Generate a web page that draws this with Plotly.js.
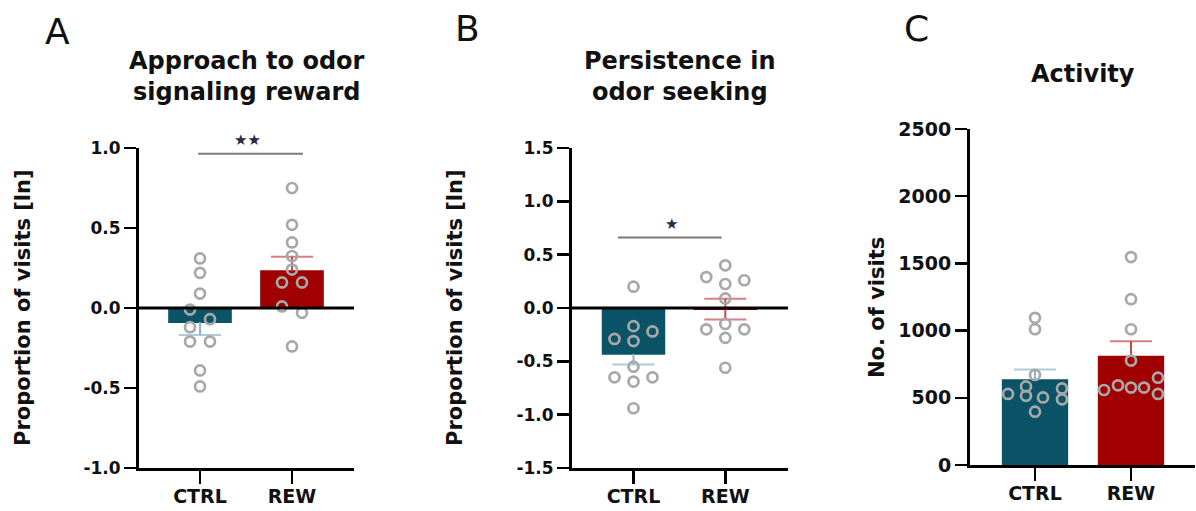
<!DOCTYPE html>
<html><head><meta charset="utf-8">
<script src="https://cdn.plot.ly/plotly-3.0.1.min.js"></script>
<style>html,body{margin:0;padding:0;background:#fff}#chart{width:1196px;height:511px}</style>
</head><body><div id="chart"></div>
<script>
const W = 1196, H = 511;
const FONT = 'DejaVu Sans';

// ---------- data ----------
const categories = ['CTRL', 'REW'];

// Panel A: Approach to odor signaling reward
const approachMean = [-0.088, 0.23];
const approachSem = [0.08, 0.09];
const approachCtrl = [0.31, 0.22, 0.09, -0.01, -0.07, -0.12, -0.21, -0.21, -0.39, -0.49];
const approachRew = [0.75, 0.52, 0.41, 0.325, 0.24, 0.16, 0.16, 0.01, -0.03, -0.24];
const approachTicks = [-1, -0.5, 0, 0.5, 1];

// Panel B: Persistence in odor seeking
const persistMean = [-0.43, -0.01];
const persistSem = [0.10, 0.097];
const persistCtrl = [0.20, -0.17, -0.22, -0.29, -0.31, -0.55, -0.65, -0.65, -0.69, -0.94];
const persistRew = [0.40, 0.29, 0.26, 0.225, 0.09, -0.15, -0.20, -0.20, -0.28, -0.56];
const persistTicks = [-1.5, -1, -0.5, 0, 0.5, 1, 1.5];

// Panel C: Activity
const activityMean = [630, 806];
const activitySem = [80, 115];
const activityCtrl = [1095, 1010, 670, 585, 515, 529, 503, 570, 489, 397];
const activityRew = [1547, 1234, 1010, 777, 593, 576, 576, 558, 650, 529];
const activityTicks = [0, 500, 1000, 1500, 2000, 2500];

// ---------- style / layout (pixel positions, jitter) ----------
const ctrlColor = '#0b5366', rewColor = '#a00000';
const ctrlErr = '#8cb7c6', rewErr = '#c84848', dotColor = '#a8a8a8';

const panels = [
  { xPix: [139, 354], yPix: [148, 468], c0: 200, step: 92, yr: [-1, 1], ticks: approachTicks, dec: 1, tsize: 17,
    mean: approachMean, sem: approachSem, pts: [approachCtrl, approachRew],
    jit: [[0,0,0,-10,10,-10,-10,10,0,0], [0,0,0,0,0,-10,10,-10,10,0]],
    errDir: [-1, 1], zero: true,
    sig: { x0: -0.02, x1: 1.12, y: 0.964, tyPix: 140, txPix: 247, text: '★★' },
    title: 'Approach to odor<br>signaling reward', ty: 76,
    ytitle: 'Proportion of visits [ln]', ytx: 23, yty: 308, letter: 'A', lx: 57, ly: 31 },
  { xPix: [572, 788], yPix: [148, 468], c0: 633.5, step: 91.8, yr: [-1.5, 1.5], ticks: persistTicks, dec: 1, tsize: 17,
    mean: persistMean, sem: persistSem, pts: [persistCtrl, persistRew],
    jit: [[0,0,19,-19,0,0,-19,19,0,0], [0,-19,19,0,0,0,-19,19,0,0]],
    errDir: [-1, 0], zero: true,
    sig: { x0: -0.17, x1: 0.96, y: 0.66, tyPix: 224, txPix: 671, text: '★' },
    title: 'Persistence in<br>odor seeking', ty: 76,
    ytitle: 'Proportion of visits [ln]', ytx: 455, yty: 308, letter: 'B', lx: 467, ly: 29 },
  { xPix: [970, 1195], yPix: [129, 465], c0: 1035, step: 96, yr: [0, 2500], ticks: activityTicks, dec: 0, tsize: 19,
    mean: activityMean, sem: activitySem, pts: [activityCtrl, activityRew],
    jit: [[0,0,0,-9,-9,-27,8,27,27,0], [0,0,0,0,-13,0,13,-27,27,27]],
    errDir: [1, 1], zero: false, sig: null,
    title: 'Activity', ty: 74,
    ytitle: 'No. of visits', ytx: 877, yty: 308, letter: 'C', lx: 916, ly: 28 }
];

const traces = [];
const layout = {
  width: W, height: H, margin: { l: 0, r: 0, t: 0, b: 0 },
  paper_bgcolor: '#fff', plot_bgcolor: '#fff', showlegend: false,
  barmode: 'overlay', shapes: [], annotations: []
};

panels.forEach((p, k) => {
  const sfx = k === 0 ? '' : String(k + 1);
  const xa = 'x' + sfx, ya = 'y' + sfx;
  const barColors = [ctrlColor, rewColor];
  const errColors = [ctrlErr, rewErr];

  // bars
  categories.forEach((c, i) => {
    traces.push({
      type: 'bar', x: [i], y: [p.mean[i]], width: 0.67, xaxis: xa, yaxis: ya,
      marker: { color: barColors[i], line: { color: barColors[i], width: 2 } },
      hoverinfo: 'skip', name: c
    });
  });
  // error bars (mean ± SEM, drawn through the axes)
  categories.forEach((c, i) => {
    const m = p.mean[i], s = p.sem[i], d = p.errDir[i];
    let ys, sizes;
    if (d === 0) { ys = [m + s, m - s]; sizes = [30, 30]; }
    else { ys = [m, m + d * s]; sizes = [0, 30]; }
    traces.push({
      type: 'scatter', mode: 'lines+markers', x: [i, i], y: ys, xaxis: xa, yaxis: ya,
      line: { color: errColors[i], width: 2 },
      marker: { symbol: 'line-ew-open', size: sizes, color: errColors[i], line: { color: errColors[i], width: 2 } },
      hoverinfo: 'skip'
    });
  });
  // individual points
  categories.forEach((c, i) => {
    const vals = p.pts[i];
    traces.push({
      type: 'scatter', mode: 'markers', xaxis: xa, yaxis: ya,
      x: vals.map((v, j) => i + p.jit[i][j] / p.step), y: vals,
      marker: { symbol: 'circle-open', size: 10, color: dotColor, line: { color: dotColor, width: 2.7 } },
      hoverinfo: 'y', name: c
    });
  });

  const xr = [(p.xPix[0] - p.c0) / p.step, (p.xPix[1] - p.c0) / p.step];
  layout['xaxis' + sfx] = {
    domain: [p.xPix[0] / W, p.xPix[1] / W], range: xr, anchor: ya,
    tickmode: 'array', tickvals: [0, 1], ticktext: categories,
    showline: true, linecolor: '#000', linewidth: 3, ticks: 'outside', ticklen: 13, tickwidth: 2.5, tickcolor: '#000',
    ticklabelstandoff: -4,
    showgrid: false, zeroline: false, fixedrange: true,
    tickfont: { family: FONT, size: 19, color: '#111', weight: 'bold' }
  };
  layout['yaxis' + sfx] = {
    domain: [1 - p.yPix[1] / H, 1 - p.yPix[0] / H], range: p.yr, anchor: xa,
    tickmode: 'array', tickvals: p.ticks, ticktext: p.ticks.map(v => v.toFixed(p.dec)),
    showline: true, linecolor: '#000', linewidth: 3, ticks: 'outside', ticklen: 12, tickwidth: 2.5, tickcolor: '#000',
    showgrid: false, zeroline: false, fixedrange: true,
    tickfont: { family: FONT, size: p.tsize, color: '#111', weight: 'bold' }
  };

  if (p.zero) {
    layout.shapes.push({ type: 'line', xref: xa + ' domain', yref: ya, x0: 0, x1: 1, y0: 0, y1: 0,
      line: { color: '#000', width: 3 }, layer: 'above' });
  }
  if (p.sig) {
    layout.shapes.push({ type: 'line', xref: xa, yref: ya, x0: p.sig.x0, x1: p.sig.x1, y0: p.sig.y, y1: p.sig.y,
      line: { color: '#7a7a7a', width: 2 } });
    layout.annotations.push({ xref: 'paper', yref: 'paper', x: p.sig.txPix / W, y: 1 - p.sig.tyPix / H,
      xanchor: 'center', yanchor: 'middle', text: p.sig.text, showarrow: false,
      font: { family: FONT, size: 15, color: '#2a2a48' } });
  }
  // panel title
  layout.annotations.push({ xref: 'paper', yref: 'paper', x: ((p.xPix[0] + p.xPix[1]) / 2) / W, y: 1 - p.ty / H,
    xanchor: 'center', yanchor: 'middle', text: p.title, showarrow: false,
    font: { family: FONT, size: 24, color: '#111', weight: 'bold' } });
  // y-axis title
  layout.annotations.push({ xref: 'paper', yref: 'paper', x: p.ytx / W, y: 1 - p.yty / H,
    xanchor: 'center', yanchor: 'middle', textangle: -90, text: p.ytitle, showarrow: false,
    font: { family: FONT, size: 21, color: '#111', weight: 'bold' } });
  // panel letter
  layout.annotations.push({ xref: 'paper', yref: 'paper', x: p.lx / W, y: 1 - p.ly / H,
    xanchor: 'center', yanchor: 'middle', text: p.letter, showarrow: false,
    font: { family: FONT, size: 36, color: '#111' } });
});

Plotly.newPlot('chart', traces, layout, { displayModeBar: false, staticPlot: true });
</script>
</body></html>
